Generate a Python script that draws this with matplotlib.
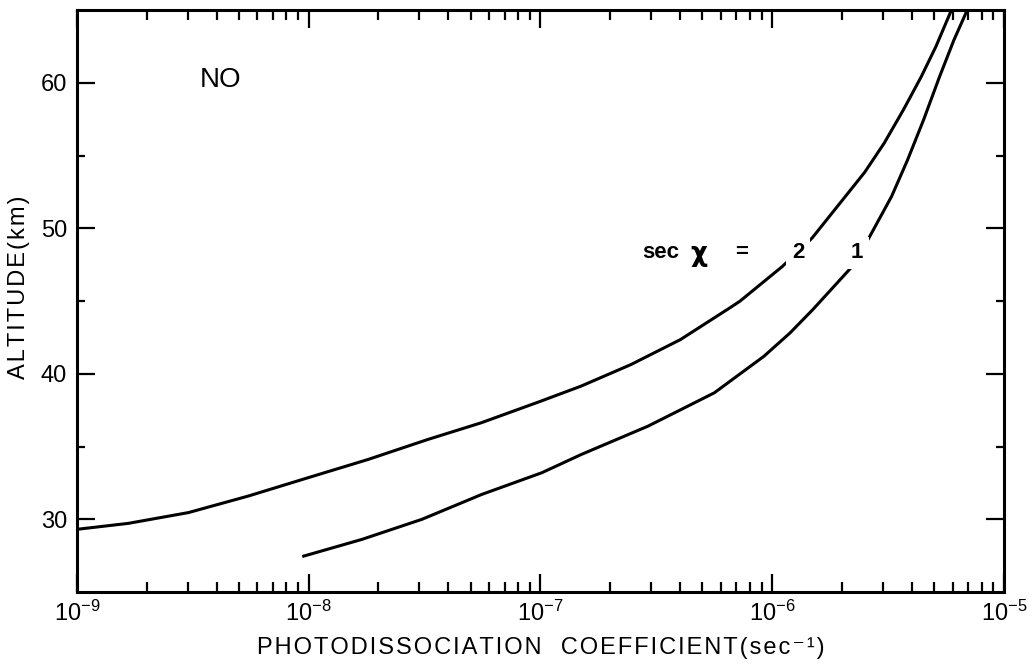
import numpy as np
import matplotlib
matplotlib.use("Agg")
import matplotlib.pyplot as plt
from matplotlib.ticker import LogLocator, FixedLocator, NullFormatter

plt.rcParams['font.family'] = ['Liberation Sans', 'DejaVu Sans']
plt.rcParams['mathtext.fontset'] = 'custom'
plt.rcParams['mathtext.rm'] = 'Liberation Sans'

# sec chi = 2 curve (log10 of photodissociation coefficient [s^-1], altitude [km])
logj_sec2 = [-9.000, -8.778, -8.519, -8.260, -8.002, -7.744, -7.485, -7.256,
             -6.998, -6.825, -6.610, -6.396, -6.183, -6.140, -5.956, -5.828,
             -5.601, -5.517, -5.434, -5.357, -5.294, -5.239, -5.227]
alt_sec2 = [29.31, 29.72, 30.46, 31.60, 32.86, 34.11, 35.49, 36.63,
            38.12, 39.15, 40.63, 42.35, 44.53, 44.98, 47.38, 49.33,
            53.85, 55.85, 58.14, 60.42, 62.48, 64.54, 65.00]

# sec chi = 1 curve
logj_sec1 = [-8.028, -7.770, -7.511, -7.253, -6.994, -6.823, -6.536, -6.250,
             -6.036, -5.923, -5.825, -5.661, -5.583, -5.485, -5.416, -5.347,
             -5.278, -5.216, -5.168, -5.159]
alt_sec1 = [27.44, 28.62, 30.00, 31.71, 33.20, 34.46, 36.40, 38.69,
            41.20, 42.81, 44.41, 47.27, 49.33, 52.19, 54.70, 57.45,
            60.42, 62.94, 64.66, 65.00]

x_ticks = [1e-9, 1e-8, 1e-7, 1e-6, 1e-5]
x_ticklabels = [r'$\mathregular{10^{-9}}$', r'$\mathregular{10^{-8}}$',
                r'$\mathregular{10^{-7}}$', r'$\mathregular{10^{-6}}$',
                r'$\mathregular{10^{-5}}$']
y_ticks = [30, 40, 50, 60]
y_minor = [35, 45, 55]

fig = plt.figure(figsize=(10.29, 6.67), dpi=100)
ax = fig.add_axes([0.0748, 0.1124, 0.9009, 0.8726])

for lx, ly in ((logj_sec2, alt_sec2), (logj_sec1, alt_sec1)):
    ax.plot(10 ** np.array(lx), ly, color='black', lw=2.2, zorder=2,
            solid_capstyle='butt', solid_joinstyle='round')

ax.set_xscale('log')
ax.set_xlim(1e-9, 1e-5)
ax.set_ylim(25, 65)

ax.set_xticks(x_ticks)
ax.set_xticklabels(x_ticklabels, fontsize=17)
ax.xaxis.set_minor_locator(LogLocator(base=10, subs=np.arange(2, 10), numticks=20))
ax.xaxis.set_minor_formatter(NullFormatter())
ax.set_yticks(y_ticks)
ax.set_yticklabels([str(v) for v in y_ticks], fontsize=17)
ax.yaxis.set_minor_locator(FixedLocator(y_minor))

ax.tick_params(which='major', axis='x', direction='in', length=13, width=1.6,
               top=True, bottom=True, pad=6)
ax.tick_params(which='minor', axis='x', direction='in', length=7, width=1.6,
               top=True, bottom=True)
ax.tick_params(which='major', axis='y', direction='in', length=13, width=1.6,
               left=True, right=True, pad=7)
ax.tick_params(which='minor', axis='y', direction='in', length=6, width=1.6,
               left=True, right=True)
for s in ax.spines.values():
    s.set_linewidth(2.2)

xlabel_text = 'PHOTODISSOCIATION  COEFFICIENT(sec\u207b\u00b9)'
ylabel_text = 'ALTITUDE(km)'
ax.set_xlabel('\u200a'.join(xlabel_text), fontsize=17, labelpad=8)
ax.set_ylabel('\u200a'.join(ylabel_text), fontsize=17)
ax.yaxis.set_label_coords(-0.051, 0.524)

ax.text(10 ** -8.379, 60.2, 'NO', fontsize=20, ha='center', va='center')

wb = dict(facecolor='white', edgecolor='none', pad=4)
ax.text(10 ** -6.483, 48.32, 'sec', fontsize=16, fontweight='bold',
        ha='center', va='center')
ax.text(10 ** -6.315, 48.2, 'χ', fontsize=19, fontweight='bold',
        ha='center', va='center', family=['DejaVu Sans'])
ax.text(10 ** -6.134, 48.32, '=', fontsize=16, fontweight='bold',
        ha='center', va='center')
ax.text(10 ** -5.888, 48.32, '2', fontsize=16, fontweight='bold',
        ha='center', va='center', bbox=wb, zorder=3)
ax.text(10 ** -5.634, 48.32, '1', fontsize=16, fontweight='bold',
        ha='center', va='center', bbox=wb, zorder=3)

fig.savefig('out.png', dpi=100)
